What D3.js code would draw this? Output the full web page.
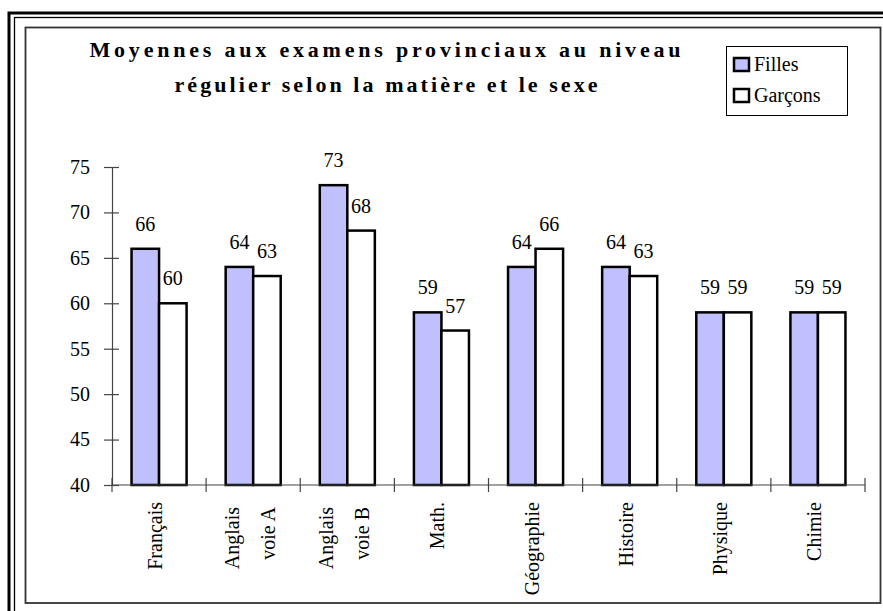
<!DOCTYPE html>
<html><head><meta charset="utf-8">
<script src="https://cdn.jsdelivr.net/npm/d3@7"></script>
<style>body{margin:0;background:#fff}svg{display:block}svg text{font-family:"Liberation Serif",Tinos,"Times New Roman",serif !important}</style>
</head><body>
<svg id="c" width="883" height="611" font-family="Liberation Serif"></svg>
<script>
const categories = [["Français"],["Anglais","voie A"],["Anglais","voie B"],["Math."],["Géographie"],["Histoire"],["Physique"],["Chimie"]];
const seriesNames = ["Filles","Garçons"];
const filles = [66,64,73,59,64,64,59,59];
const garcons = [60,63,68,57,66,63,59,59];
const yTicks = [40,45,50,55,60,65,70,75];
const titleLines = ["Moyennes aux examens provinciaux au niveau","régulier selon la matière et le sexe"];
const colors = ["#c0c0ff","#ffffff"];
const FF = "Liberation Serif";

const svg = d3.select("#c");
svg.append("rect").attr("x",9).attr("y",13).attr("width",1000).attr("height",1000).attr("fill","none").attr("stroke","#000").attr("stroke-width",3);
svg.append("rect").attr("x",14.5).attr("y",17.5).attr("width",1000).attr("height",1000).attr("fill","none").attr("stroke","#000").attr("stroke-width",1.3);
svg.append("rect").attr("x",25.5).attr("y",27.5).attr("width",855).attr("height",575.5).attr("fill","#fff").attr("stroke","#333").attr("stroke-width",1.8);

const x0 = d3.scaleBand().domain(d3.range(categories.length)).range([112,865]).padding(0);
const x1 = d3.scaleBand().domain(seriesNames).range([0,x0.bandwidth()]).paddingInner(0).paddingOuter(0.71);
const y = d3.scaleLinear().domain([40,75]).range([485,167]);

titleLines.forEach((t,i)=>{
  svg.append("text").attr("x",[385,386][i]).attr("y",[57,92][i]).attr("text-anchor","middle")
    .attr("font-family",FF).attr("font-weight","bold").attr("font-size",22)
    .attr("textLength",[591,423][i]).attr("lengthAdjust","spacing").text(t);
});

const data = categories.map((c,i)=>({i, vals:[filles[i],garcons[i]]}));
const g = svg.append("g");
data.forEach(d=>{
  seriesNames.forEach((s,k)=>{
    const bx = x0(d.i)+x1(s);
    g.append("rect").attr("x",bx).attr("y",y(d.vals[k])).attr("width",x1.bandwidth()).attr("height",y(40)-y(d.vals[k]))
      .attr("fill",colors[k]).attr("stroke","#000").attr("stroke-width",2.5);
    g.append("text").attr("x",bx+x1.bandwidth()/2).attr("y",y(d.vals[k])-18).attr("text-anchor","middle")
      .attr("font-family",FF).attr("font-size",20).text(d.vals[k]);
  });
});

const ya = svg.append("g").attr("transform","translate(112,0)")
  .call(d3.axisLeft(y).tickValues(yTicks).tickSize(0).tickPadding(22));
ya.attr("font-family",FF);
ya.select(".domain").attr("stroke","#444").attr("stroke-width",1.2);
ya.selectAll(".tick text").attr("font-size",20).attr("font-family",FF).attr("fill","#000");
ya.selectAll(".tick").append("line").attr("x1",-8).attr("x2",7).attr("stroke","#444").attr("stroke-width",1.2);

svg.append("line").attr("x1",112).attr("x2",865).attr("y1",y(40)).attr("y2",y(40)).attr("stroke","#444").attr("stroke-width",1.2);
const bounds = d3.range(categories.length+1).map(i=> i<categories.length ? x0(i) : x0(i-1)+x0.bandwidth());
svg.selectAll(".xt").data(bounds).enter().append("line").attr("x1",d=>d).attr("x2",d=>d).attr("y1",478).attr("y2",492).attr("stroke","#444").attr("stroke-width",1.2);

categories.forEach((c,i)=>{
  const cx = x0(i)+x0.bandwidth()/2;
  const t = svg.append("text").attr("transform",`translate(${cx},${c.length>1?507:502}) rotate(-90)`)
    .attr("text-anchor","end").attr("font-family",FF).attr("font-size",20);
  if(c.length===1){ t.append("tspan").attr("x",0).attr("y",3).text(c[0]); }
  else { t.append("tspan").attr("x",0).attr("y",-14).text(c[0]); t.append("tspan").attr("x",0).attr("y",22).text(c[1]); }
});

const lg = svg.append("g");
lg.append("rect").attr("x",726.5).attr("y",46.5).attr("width",121).attr("height",69).attr("fill","#fff").attr("stroke","#000").attr("stroke-width",1);
seriesNames.forEach((s,k)=>{
  lg.append("rect").attr("x",734).attr("y",58+k*31).attr("width",15).attr("height",13).attr("fill",colors[k]).attr("stroke","#000").attr("stroke-width",2.5);
  lg.append("text").attr("x",754).attr("y",71+k*31).attr("font-family",FF).attr("font-size",20).text(s);
});
</script>
</body></html>
